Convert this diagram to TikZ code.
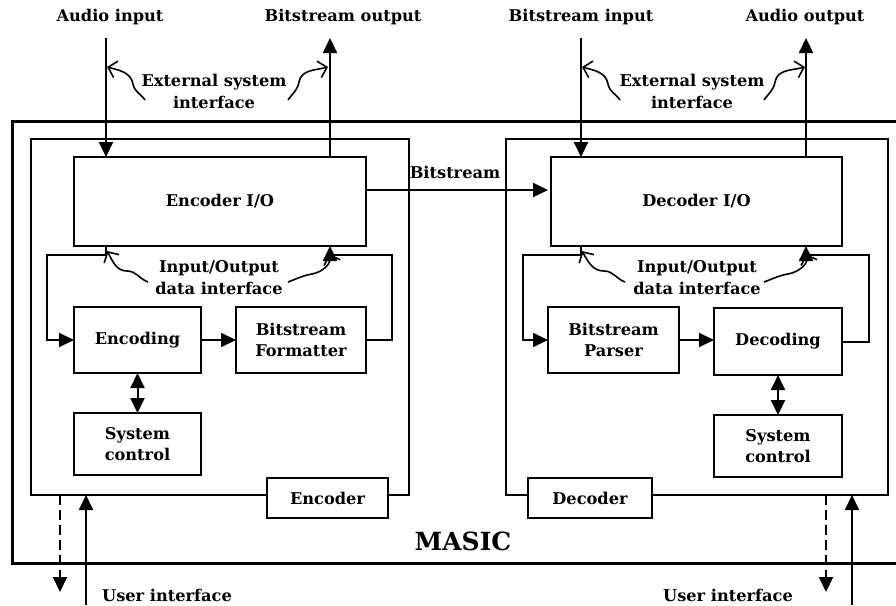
\documentclass[tikz,border=0pt]{standalone}
\usepackage{fontspec}
\setmainfont{DejaVu Serif}
\usetikzlibrary{arrows.meta}
\tikzset{
  txt/.style={font=\fontsize{16.2}{22}\selectfont\bfseries, align=center, inner sep=0pt},
  blk/.style={draw, line width=2pt, inner sep=0pt, outer sep=0pt, font=\fontsize{16.2}{21}\selectfont\bfseries, align=center},
  lbl/.style={blk, fill=white},
  conn/.style={line width=2pt},
  arr/.style={conn, -{Triangle[length=15pt,width=14pt]}},
  darr/.style={conn, {Triangle[length=15pt,width=14pt]}-{Triangle[length=15pt,width=14pt]}},
  dsh/.style={arr, dash pattern=on 10pt off 5pt},
  squig/.style={line width=1.6pt, -{Straight Barb[length=8pt,width=17pt,line width=1.6pt]}},
}
\begin{document}
\begin{tikzpicture}[x=1pt,y=-1pt]
\useasboundingbox (0,0) rectangle (896,605);
% MASIC outer
\draw[line width=3pt] (896,121) -- (12,121) -- (12,563) -- (896,563);
\node[txt, font=\fontsize{25}{28}\selectfont\bfseries] (masic) at (463,541) {MASIC};
% ---------------- Encoder -----------------
\node[blk, minimum width=378pt, minimum height=356pt] (enc) at (220,317) {};
\node[lbl, minimum width=121pt, minimum height=40pt] (enclbl) at (327.5,498) {Encoder};
\node[blk, minimum width=292pt, minimum height=89pt] (encio) at (220,201.5) {Encoder I/O};
\node[blk, minimum width=127pt, minimum height=66pt] (encoding) at (137.5,340) {Encoding};
\node[blk, minimum width=130pt, minimum height=66pt] (fmt) at (301,340) {Bitstream\\Formatter};
\node[blk, minimum width=127pt, minimum height=62pt] (sysc1) at (137.5,444) {System\\control};
\node[txt] (ain) at (110,17) {Audio input};
\node[txt] (bout) at (343,17) {Bitstream output};
\node[txt] (esi1) at (214,91) {External system\\interface};
\node[txt] (iod1) at (219,278) {Input/Output\\data interface};
\coordinate (aitop) at (106,38);
\coordinate (botop) at (330,38);
\coordinate (encL) at (47,255);
\coordinate (encR) at (392,255);
\draw[arr] (aitop) -- (aitop |- encio.north);
\draw[arr] (encio.north -| botop) -- (botop);
\draw[arr] (encio.south -| aitop) |- (encL) |- (encoding.west);
\draw[arr] (encoding.east) -- (fmt.west);
\draw[arr] (fmt.east) -| (encR) -| (encio.south -| botop);
\draw[darr] (encoding.south) -- (sysc1.north);
\draw[squig] (145,100) to[out=125,in=-80] (133,84) to[out=100,in=-15] (107,67);
\draw[squig] (288,100) to[out=55,in=-100] (299,82) to[out=80,in=195] (328,67);
\draw[squig] (148,282) to[out=160,in=0] (127,271) to[out=180,in=-60] (107,251);
\draw[squig] (288,282) to[out=20,in=190] (312,274) to[out=10,in=-70] (329,254);
% user interface encoder
\coordinate (ud1) at (60,592);
\coordinate (uu1) at (86,605);
\draw[dsh] (ud1 |- enc.south) -- (ud1);
\draw[arr] (uu1) -- (uu1 |- enc.south);
\node[txt] (ui1) at (167,595) {User interface};
% Bitstream link
\draw[arr] (encio.east |- 0,190) -- (548,190) coordinate (decin);
\node[txt] (bsl) at (455,172) {Bitstream};
% ---------------- Decoder -----------------
\node[blk, minimum width=382pt, minimum height=356pt] (dec) at (697,317) {};
\node[lbl, minimum width=124pt, minimum height=40pt] (declbl) at (590,498) {Decoder};
\node[blk, minimum width=291pt, minimum height=89pt] (decio) at (696.5,201.5) {Decoder I/O};
\node[blk, minimum width=131pt, minimum height=66pt] (parser) at (613.5,340) {Bitstream\\Parser};
\node[blk, minimum width=128pt, minimum height=67pt] (decoding) at (778,341.5) {Decoding};
\node[blk, minimum width=128pt, minimum height=62pt] (sysc2) at (778,446) {System\\control};
\node[txt] (bin) at (581,17) {Bitstream input};
\node[txt] (aout) at (805,17) {Audio output};
\node[txt] (esi2) at (692,91) {External system\\interface};
\node[txt] (iod2) at (697,278) {Input/Output\\data interface};
\coordinate (bitop) at (581,38);
\coordinate (aotop) at (806,38);
\coordinate (decL) at (523,255);
\coordinate (decR) at (869,255);
\draw[arr] (bitop) -- (bitop |- decio.north);
\draw[arr] (decio.north -| aotop) -- (aotop);
\draw[arr] (decio.south -| bitop) |- (decL) |- (parser.west);
\draw[arr] (parser.east) -- (parser.east -| decoding.west);
\draw[arr] (decoding.east) -| (decR) -| (decio.south -| aotop);
\draw[darr] (decoding.south) -- (sysc2.north);
\draw[squig] (620,100) to[out=125,in=-80] (608,84) to[out=100,in=-15] (582,67);
\draw[squig] (764,100) to[out=55,in=-100] (775,82) to[out=80,in=195] (805,67);
\draw[squig] (625,282) to[out=160,in=0] (604,271) to[out=180,in=-60] (582,251);
\draw[squig] (764,282) to[out=20,in=190] (788,274) to[out=10,in=-70] (806,254);
% user interface decoder
\coordinate (ud2) at (826,592);
\coordinate (uu2) at (852,605);
\draw[dsh] (ud2 |- dec.south) -- (ud2);
\draw[arr] (uu2) -- (uu2 |- dec.south);
\node[txt] (ui2) at (728,595) {User interface};
\end{tikzpicture}
\end{document}
